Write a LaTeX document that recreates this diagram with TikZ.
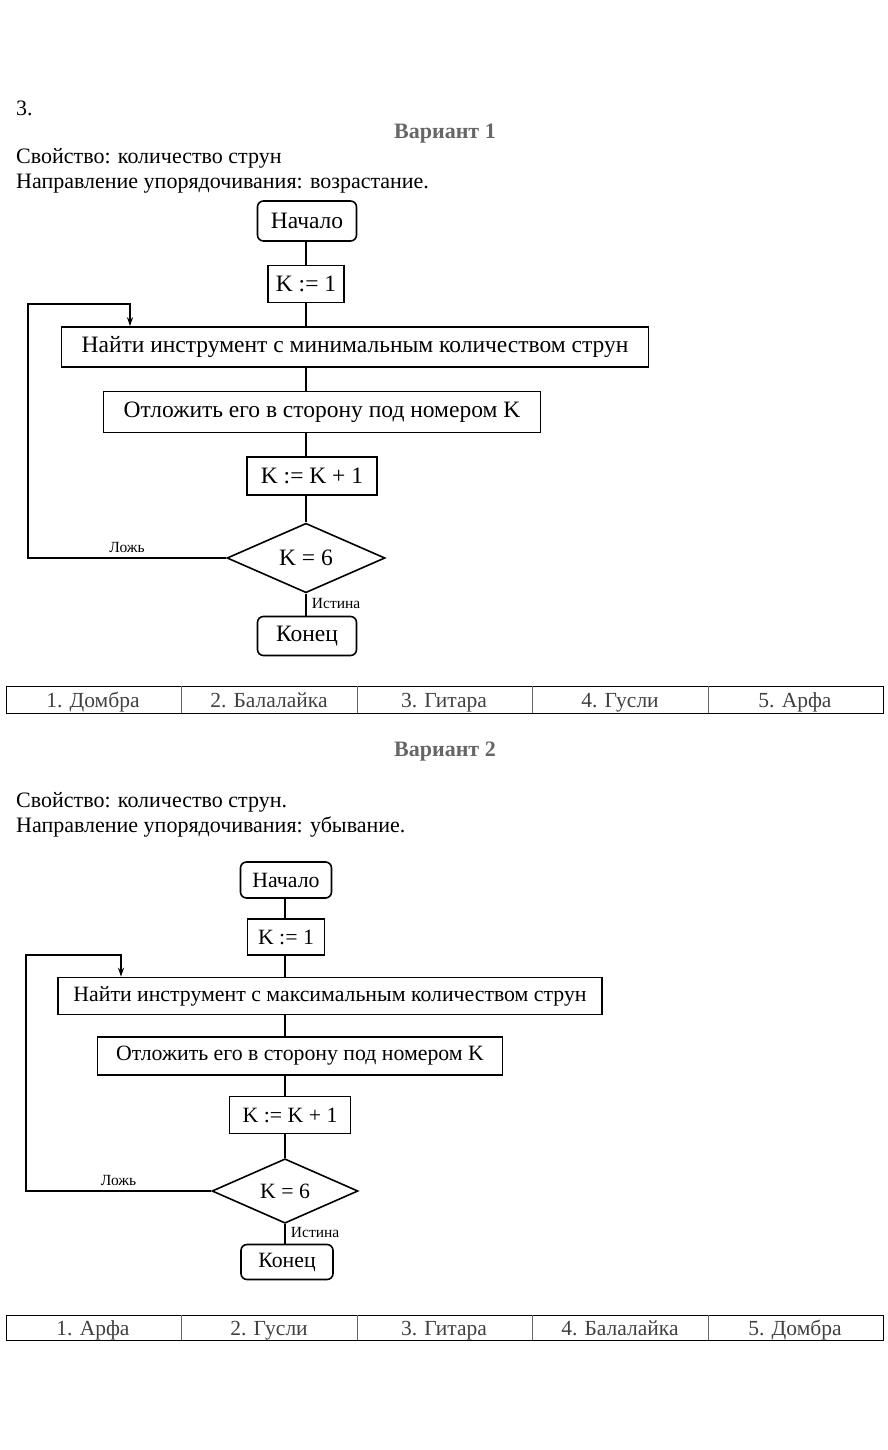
\documentclass[tikz,border=0pt]{standalone}
\usepackage{fontspec}
\setmainfont{Liberation Serif}
\usetikzlibrary{shapes.geometric,arrows.meta}

\tikzset{
  block/.style={draw,line width=1.6pt,rectangle,inner sep=0pt},
  term/.style={block,rounded corners=6pt},
  cond/.style={draw,line width=1.6pt,diamond,inner sep=0pt},
  flow/.style={line width=1.3pt},
  back/.style={line width=1.3pt,-{Stealth[length=9pt,width=6pt]}},
  lbl/.style={font=\fontsize{15.5}{18}\selectfont},
  txt/.style={anchor=west,inner sep=0pt,font=\fontsize{22}{26}\selectfont},
  title/.style={font=\fontsize{22}{26}\selectfont\bfseries,text=black!60},
  cell/.style={anchor=base,font=\fontsize{21.5}{25}\selectfont,text=black!75},
}

\begin{document}
\begin{tikzpicture}[x=1pt,y=-1pt]
  \useasboundingbox (0,0) rectangle (888,1450);

  % Variant 1
  \node[txt] (num) at (16,108) {3.};
  \node[title] (var1) at (445,134) {Вариант 1};
  \node[txt] (prop1) at (16,158) {Свойство: количество струн};
  \node[txt] (dir1) at (16,184) {Направление упорядочивания: возрастание.};

  \begin{scope}[every node/.append style={font=\fontsize{23.5}{28}\selectfont}]
    \node[term,minimum width=99,minimum height=40] (start1) at (307,221) {Начало};
    \node[block,minimum width=76,minimum height=37] (init1) at (306,284) {K := 1};
    \node[block,minimum width=587,minimum height=40] (find1) at (355,347) {Найти инструмент с минимальным количеством струн};
    \node[block,minimum width=437,minimum height=41] (put1) at (322,412) {Отложить его в сторону под номером K};
    \node[block,minimum width=130,minimum height=38] (inc1) at (312,476) {K := K + 1};
    \node[cond,minimum width=158,minimum height=63] (test1) at (306,558) {K = 6};
    \node[term,minimum width=99,minimum height=39] (stop1) at (307,636) {Конец};
  \end{scope}
  \coordinate (left1) at (28,304);
  \coordinate (drop1) at (130,304);

  \draw[flow] (start1.south -| init1) -- (init1);
  \draw[flow] (init1) -- (init1 |- find1.north);
  \draw[flow] (init1 |- find1.south) -- (init1 |- put1.north);
  \draw[flow] (init1 |- put1.south) -- (init1 |- inc1.north);
  \draw[flow] (init1 |- inc1.south) -- (test1);
  \draw[flow] (test1) -- node[lbl,right=2pt,pos=0.45] (true1) {Истина} (test1 |- stop1.north);
  \draw[back] (test1.west) -- node[lbl,above=1pt,pos=0.5] (false1) {Ложь} (test1.west -| left1)
    -- (left1) -- (drop1) -- (drop1 |- find1.north);

  % table 1
  \draw[line width=1pt] (6,686) rectangle (883,713);
  \foreach \xx in {181,357,532,708}
    \draw[line width=0.6pt,black!60] (\xx,686) -- (\xx,713);
  \node[cell] (a1) at (93,707) {1. Домбра};
  \node[cell] (a2) at (269,707) {2. Балалайка};
  \node[cell] (a3) at (444,707) {3. Гитара};
  \node[cell] (a4) at (620,707) {4. Гусли};
  \node[cell] (a5) at (795,707) {5. Арфа};

  % Variant 2
  \node[title] (var2) at (445,752) {Вариант 2};
  \node[txt] (prop2) at (16,802) {Свойство: количество струн.};
  \node[txt] (dir2) at (16,827) {Направление упорядочивания: убывание.};

  \begin{scope}[every node/.append style={font=\fontsize{21.8}{26}\selectfont}]
    \node[term,minimum width=91,minimum height=36] (start2) at (286,880) {Начало};
    \node[block,minimum width=77,minimum height=36] (init2) at (286,937) {K := 1};
    \node[block,minimum width=544,minimum height=37] (find2) at (330,996) {Найти инструмент с максимальным количеством струн};
    \node[block,minimum width=405,minimum height=38] (put2) at (300,1056) {Отложить его в сторону под номером K};
    \node[block,minimum width=121,minimum height=37] (inc2) at (290,1115) {K := K + 1};
    \node[cond,minimum width=146,minimum height=59] (test2) at (285,1191) {K = 6};
    \node[term,minimum width=92,minimum height=35] (stop2) at (287,1262) {Конец};
  \end{scope}
  \coordinate (left2) at (26,955);
  \coordinate (drop2) at (121,955);

  \draw[flow] (start2.south -| test2) -- (init2.north -| test2);
  \draw[flow] (init2.south -| test2) -- (find2.north -| test2);
  \draw[flow] (find2.south -| test2) -- (put2.north -| test2);
  \draw[flow] (put2.south -| test2) -- (inc2.north -| test2);
  \draw[flow] (inc2.south -| test2) -- (test2);
  \draw[flow] (test2) -- node[lbl,right=2pt,pos=0.45] (true2) {Истина} (test2 |- stop2.north);
  \draw[back] (test2.west) -- node[lbl,above=1pt,pos=0.5] (false2) {Ложь} (test2.west -| left2)
    -- (left2) -- (drop2) -- (drop2 |- find2.north);

  % table 2
  \draw[line width=1pt] (6,1315) rectangle (883,1340);
  \foreach \xx in {181,357,532,708}
    \draw[line width=0.6pt,black!60] (\xx,1315) -- (\xx,1340);
  \node[cell] (b1) at (93,1335) {1. Арфа};
  \node[cell] (b2) at (269,1335) {2. Гусли};
  \node[cell] (b3) at (444,1335) {3. Гитара};
  \node[cell] (b4) at (620,1335) {4. Балалайка};
  \node[cell] (b5) at (795,1335) {5. Домбра};
\end{tikzpicture}
\end{document}
